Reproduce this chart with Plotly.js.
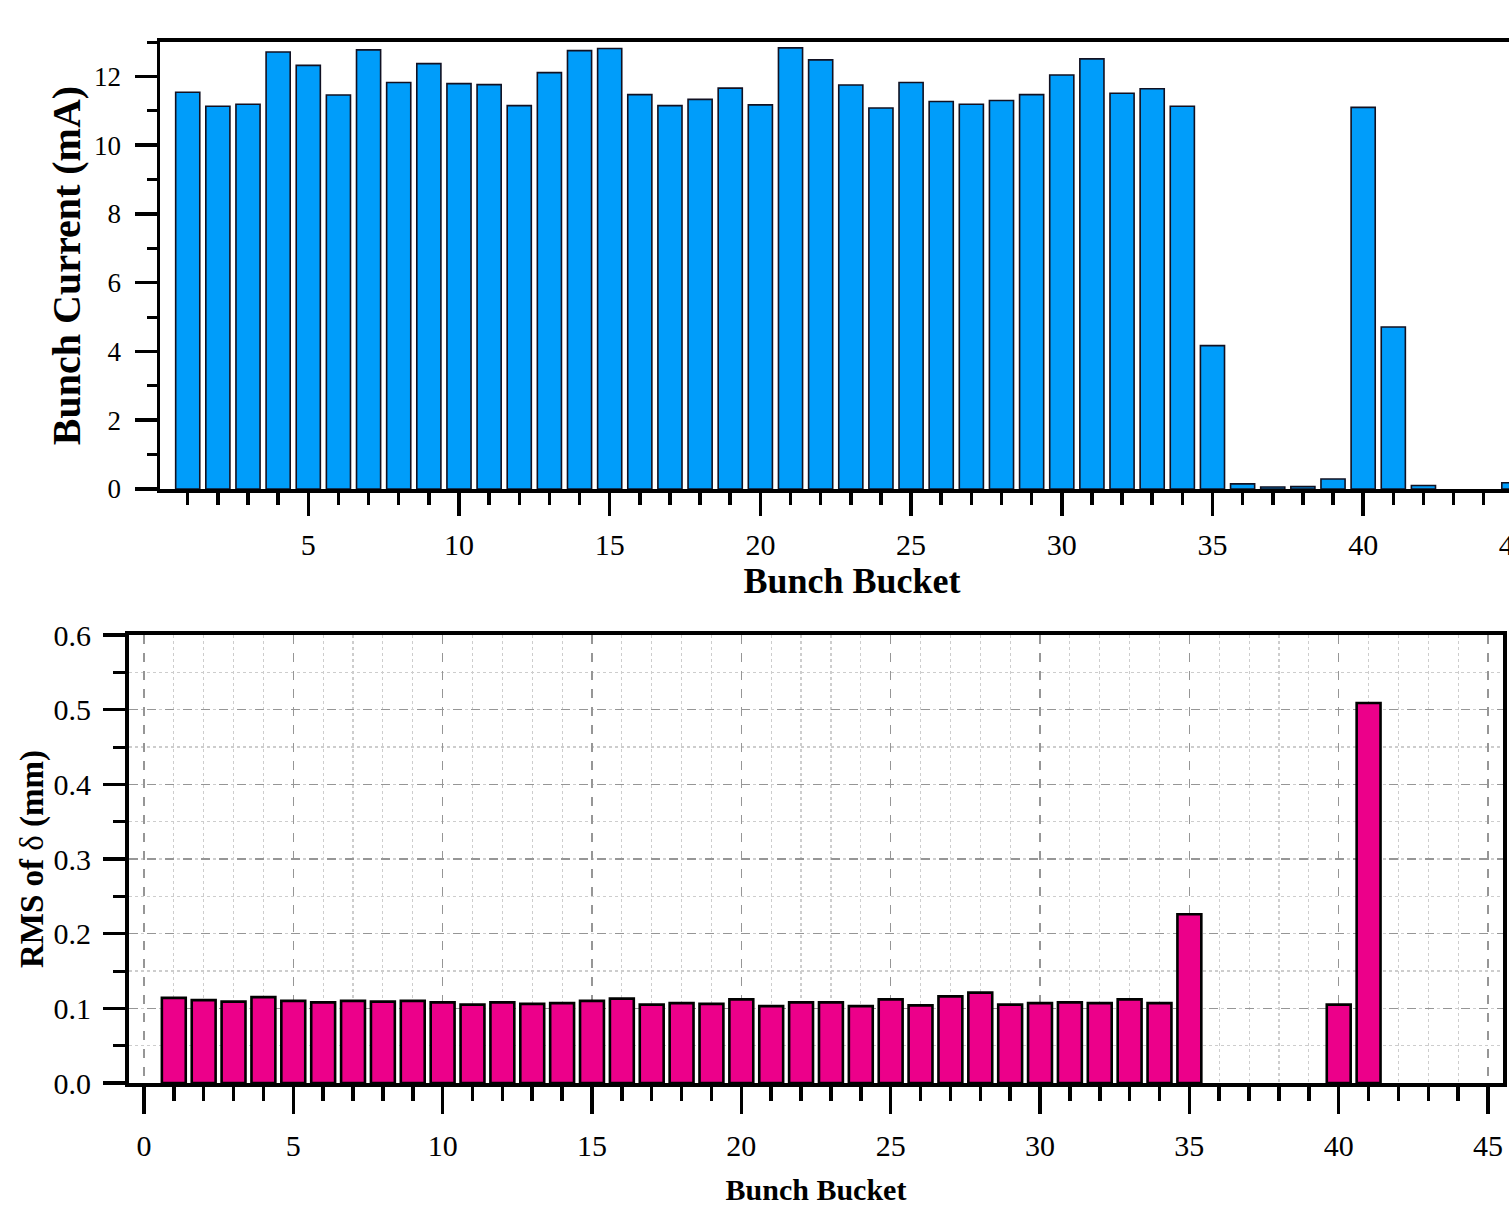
<!DOCTYPE html>
<html>
<head>
<meta charset="utf-8">
<script src="https://cdn.plot.ly/plotly-3.0.1.min.js"></script>
<style>
html,body{margin:0;padding:0;overflow:hidden;background:#fff;}
#wrap{width:1509px;height:1206px;overflow:hidden;}
#plot{width:1560px;height:1206px;}
</style>
</head>
<body>
<div id="wrap"><div id="plot"></div></div>
<script>
// Bunch bucket numbers
const buckets = [1,2,3,4,5,6,7,8,9,10,11,12,13,14,15,16,17,18,19,20,21,22,23,24,25,26,27,28,29,30,31,32,33,34,35,36,37,38,39,40,41,42,43,44,45];
// Top panel: bunch current (mA)
const bunchCurrent = [11.54,11.13,11.19,12.71,12.32,11.46,12.77,11.82,12.37,11.79,
                      11.76,11.15,12.11,12.75,12.81,11.47,11.15,11.33,11.66,11.17,
                      12.83,12.48,11.75,11.08,11.82,11.27,11.19,11.30,11.47,12.04,
                      12.51,11.51,11.64,11.13,4.17,0.15,0.06,0.07,0.29,11.10,
                      4.71,0.10,0,0,0.18];
// Bottom panel: RMS of delta (mm)
const rmsDelta = [0.114,0.111,0.109,0.115,0.110,0.108,0.110,0.109,0.110,0.108,
                  0.105,0.108,0.106,0.107,0.110,0.113,0.105,0.107,0.106,0.112,
                  0.103,0.108,0.108,0.103,0.112,0.104,0.116,0.121,0.105,0.107,
                  0.108,0.107,0.112,0.107,0.226,0,0,0,0,0.105,
                  0.509,0,0,0,0];
const topYTicks = [0,2,4,6,8,10,12];
const bottomYTicks = [0.0,0.1,0.2,0.3,0.4,0.5,0.6];
const bottomYLabels = ['0.0','0.1','0.2','0.3','0.4','0.5','0.6'];

const W = 1560, H = 1206;
const px = v => v / W;
const py = v => (H - v) / H;

const serif = 'Liberation Serif';

const traces = [
  {type:'bar', x:buckets, y:bunchCurrent, xaxis:'x', yaxis:'y',
   marker:{color:'rgb(0,157,250)',
           line:{color:'#111122', width:bunchCurrent.map(v => v > 0 ? 1.6 : 0)}}, hoverinfo:'x+y'},
  {type:'bar', x:buckets, y:rmsDelta, xaxis:'x2', yaxis:'y2',
   marker:{color:'rgb(236,0,138)',
           line:{color:'#000', width:rmsDelta.map(v => v > 0 ? 2.6 : 0)}}, hoverinfo:'x+y'}
];

const layout = {
  width: W, height: H,
  margin:{l:0,r:0,t:0,b:0},
  paper_bgcolor:'#fff', plot_bgcolor:'rgba(0,0,0,0)',
  showlegend:false,
  bargap:0.2,
  font:{family:serif, color:'#000', size:27},
  xaxis:{
    domain:[px(160), px(1544)], range:[0.08, 46.0], anchor:'y',
    tick0:0, dtick:5, ticks:'outside', ticklen:23, tickwidth:3.5, tickcolor:'#000',
    minor:{dtick:1, ticks:'outside', ticklen:12, tickwidth:3.5, tickcolor:'#000'},
    showline:true, linewidth:4, linecolor:'#000', mirror:true,
    showgrid:false, zeroline:false,
    tickfont:{family:serif, size:30, color:'#000'}, ticklabelstandoff:3,
    title:{text:'<b>Bunch Bucket</b>', font:{family:serif, size:36, color:'#000'}, standoff:8}
  },
  yaxis:{
    domain:[py(489), py(42)], range:[0,13], anchor:'x',
    tickvals:topYTicks, ticktext:topYTicks.map(String),
    ticks:'outside', ticklen:22, tickwidth:3.5, tickcolor:'#000',
    minor:{dtick:1, ticks:'outside', ticklen:10, tickwidth:3, tickcolor:'#000'},
    showline:true, linewidth:3.5, linecolor:'#000',
    showgrid:false, zeroline:false,
    tickfont:{family:serif, size:27, color:'#000'}, ticklabelstandoff:8,
    title:{text:'<b>Bunch Current (mA)</b>', font:{family:serif, size:40, color:'#000'}, standoff:2}
  },
  xaxis2:{
    domain:[px(129), px(1503)], range:[-0.5, 45.5], anchor:'y2',
    tick0:0, dtick:5, ticks:'outside', ticklen:27, tickwidth:3.5, tickcolor:'#000',
    minor:{dtick:1, ticks:'outside', ticklen:14, tickwidth:3.5, tickcolor:'#000',
           showgrid:true, gridcolor:'rgb(205,205,205)', griddash:'dot', gridwidth:1.2},
    showline:true, linewidth:4, linecolor:'#000', mirror:true,
    showgrid:true, gridcolor:'rgb(150,150,150)', griddash:'dash', gridwidth:1.5,
    zeroline:false,
    tickfont:{family:serif, size:30, color:'#000'}, ticklabelstandoff:6,
    title:{text:'<b>Bunch Bucket</b>', font:{family:serif, size:30, color:'#000'}, standoff:26}
  },
  yaxis2:{
    domain:[py(1083), py(635)], range:[0,0.6], anchor:'x2',
    tickvals:bottomYTicks, ticktext:bottomYLabels,
    ticks:'outside', ticklen:22, tickwidth:3.5, tickcolor:'#000',
    minor:{dtick:0.05, ticks:'outside', ticklen:12, tickwidth:3, tickcolor:'#000',
           showgrid:true, gridcolor:'rgb(205,205,205)', griddash:'dot', gridwidth:1.2},
    showline:true, linewidth:4, linecolor:'#000', mirror:true,
    showgrid:true, gridcolor:'rgb(150,150,150)', griddash:'dash', gridwidth:1.5,
    zeroline:false,
    tickfont:{family:serif, size:30, color:'#000'}, ticklabelstandoff:6,
    title:{text:'<b>RMS of </b>δ<b> (mm)</b>', font:{family:serif, size:33, color:'#000'}, standoff:1}
  }
};

Plotly.newPlot('plot', traces, layout, {displayModeBar:false, staticPlot:true});
</script>
</body>
</html>
